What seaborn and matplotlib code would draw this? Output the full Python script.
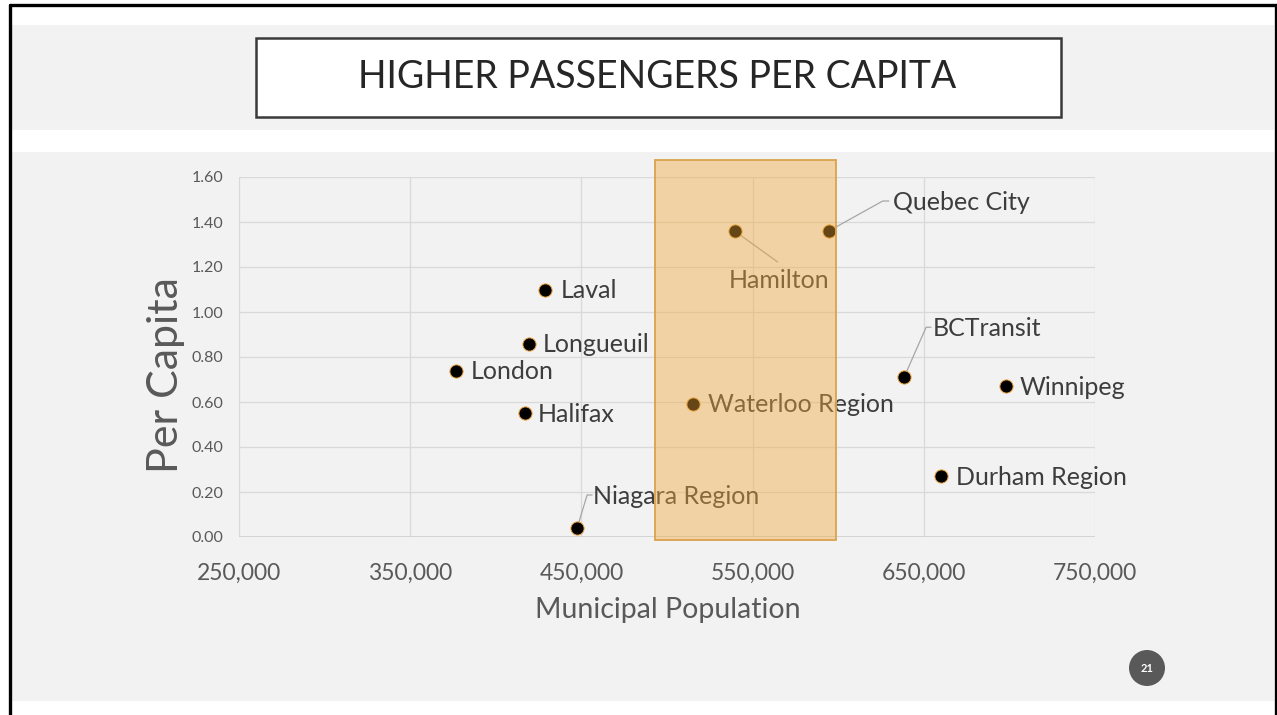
import numpy as np
import pandas as pd
import matplotlib
matplotlib.use("Agg")
import matplotlib.pyplot as plt
from matplotlib.patches import Rectangle, Circle
from matplotlib.lines import Line2D
from matplotlib.ticker import FuncFormatter
import seaborn as sns

# Transit systems: municipal population vs. passengers per capita
cities = ["Laval", "Longueuil", "London", "Halifax", "Niagara Region",
          "Hamilton", "Quebec City", "Waterloo Region", "BCTransit",
          "Winnipeg", "Durham Region"]
population = [429000, 419500, 377000, 417000, 447500,
              539500, 594500, 515000, 638500, 698000, 660000]
per_capita = [1.10, 0.86, 0.74, 0.55, 0.04,
              1.36, 1.36, 0.59, 0.71, 0.67, 0.27]

x_ticks = [250000, 350000, 450000, 550000, 650000, 750000]
y_ticks = [0.0, 0.2, 0.4, 0.6, 0.8, 1.0, 1.2, 1.4, 1.6]

df = pd.DataFrame({"city": cities, "population": population,
                   "per_capita": per_capita})

W, H, DPI = 1277, 715, 100
sns.set_theme(style="whitegrid")
plt.rcParams["font.family"] = ["Lato", "DejaVu Sans"]

fig = plt.figure(figsize=(W / DPI, H / DPI), dpi=DPI)
fig.patch.set_facecolor("white")


def px_rect(x0, y0, x1, y1, **kw):
    """Rectangle in figure pixel coordinates (y measured from top)."""
    return Rectangle((x0 / W, 1 - y1 / H), (x1 - x0) / W, (y1 - y0) / H,
                     transform=fig.transFigure, **kw)


# slide background bands
fig.patches.append(px_rect(11, 25, 1274, 130, facecolor="#f2f2f2",
                           edgecolor="none", zorder=-2))
fig.patches.append(px_rect(11, 152, 1274, 701, facecolor="#f2f2f2",
                           edgecolor="none", zorder=-2))

# slide frame
for (xa, ya, xb, yb) in [(9.5, 4.5, 1277, 4.5), (9.5, 4.5, 9.5, 715),
                         (1275.5, 4.5, 1275.5, 715)]:
    fig.lines.append(Line2D([xa / W, xb / W], [1 - ya / H, 1 - yb / H],
                            transform=fig.transFigure, color="black",
                            linewidth=2.4, zorder=5))

# title box
fig.patches.append(px_rect(256, 38, 1061, 117, facecolor="white",
                           edgecolor="#3a3a3a", linewidth=1.8, zorder=2))
fig.text(657 / W, 1 - 77 / H, "HIGHER PASSENGERS PER CAPITA",
         ha="center", va="center", fontsize=27, color="#262626", zorder=3)

# page number badge
fig.patches.append(Circle((1147 / DPI, (H - 668) / DPI), 0.18,
                          transform=fig.dpi_scale_trans,
                          facecolor="#595959", edgecolor="none", zorder=2))
fig.text(1147 / W, 1 - 668 / H, "21", ha="center", va="center",
         fontsize=8, color="white", fontweight="bold", zorder=3)

# chart area
left, right, top, bottom = 239, 1095, 177, 537
ax = fig.add_axes([left / W, 1 - bottom / H, (right - left) / W,
                   (bottom - top) / H])
ax.set_zorder(1)
ax.set_facecolor("none")
ax.set_xlim(x_ticks[0], x_ticks[-1])
ax.set_ylim(y_ticks[0], y_ticks[-1])
ax.set_xticks(x_ticks)
ax.set_yticks(y_ticks)
ax.xaxis.set_major_formatter(FuncFormatter(lambda v, p: f"{v:,.0f}"))
ax.yaxis.set_major_formatter(FuncFormatter(lambda v, p: f"{v:.2f}"))
ax.grid(True, color="#d9d9d9", linewidth=0.9)
for s in ax.spines.values():
    s.set_visible(False)
ax.axhline(0, color="#cfcfcf", linewidth=1.2, zorder=1)
ax.tick_params(axis="x", labelsize=16.5, labelcolor="#595959", pad=18.5,
               length=0)
ax.tick_params(axis="y", labelsize=11.5, labelcolor="#595959", pad=11,
               length=0)

sns.scatterplot(data=df, x="population", y="per_capita", ax=ax,
                s=90, color="black", edgecolor="#e8a040", linewidth=0.7,
                zorder=3, legend=False)

ax.set_xlabel("Municipal Population", fontsize=20.5, color="#595959")
ax.set_ylabel("Per Capita", fontsize=31, color="#595959")
ax.xaxis.set_label_coords(0.501, -0.166)
ax.yaxis.set_label_coords(-0.063, 0.45)

fig.canvas.draw()
to_disp = ax.transData.transform
to_data = ax.transData.inverted().transform


def shifted(x, y, dx, dy):
    px, py = to_disp((x, y))
    return to_data((px + dx, py + dy))


label_color = "#3d3d3d"
label_size = 18
# (dx, dy) label offsets in pixels, plus optional leader-line elbow
layout = {
    "Laval": dict(off=(15, -1)),
    "Longueuil": dict(off=(14, -1)),
    "London": dict(off=(14, -1)),
    "Halifax": dict(off=(13, -1)),
    "Waterloo Region": dict(off=(15, 0)),
    "Winnipeg": dict(off=(14, -1)),
    "Durham Region": dict(off=(15, -1)),
    "Niagara Region": dict(off=(16, 32), leader=[(10, 33), (15, 33)]),
    "Quebec City": dict(off=(64, 29), leader=[(54, 30), (60, 30)]),
    "BCTransit": dict(off=(29, 49), leader=[(22, 50), (27, 50)]),
    "Hamilton": dict(off=(44, -50), leader=[(43, -31)], ha="center"),
}

for city, x, y in zip(cities, population, per_capita):
    cfg = layout[city]
    if "leader" in cfg:
        pts = [(x, y)] + [tuple(shifted(x, y, dx, dy))
                          for dx, dy in cfg["leader"]]
        ax.plot([p[0] for p in pts], [p[1] for p in pts], color="#a6a6a6",
                linewidth=0.9, zorder=2, clip_on=False)
    tx, ty = shifted(x, y, *cfg["off"])
    ax.text(tx, ty, city, ha=cfg.get("ha", "left"), va="center",
            fontsize=label_size, color=label_color, zorder=4, clip_on=False)

# highlighted population band
ax.add_patch(Rectangle((493000, -0.013), 598700 - 493000, 1.676 + 0.013,
                       facecolor="#f0a838", alpha=0.42, edgecolor="none",
                       zorder=5, clip_on=False))
ax.add_patch(Rectangle((493000, -0.013), 598700 - 493000, 1.676 + 0.013,
                       facecolor="none", edgecolor="#dba24c", linewidth=1.3,
                       zorder=5, clip_on=False))

fig.savefig("out.png", dpi=DPI)
